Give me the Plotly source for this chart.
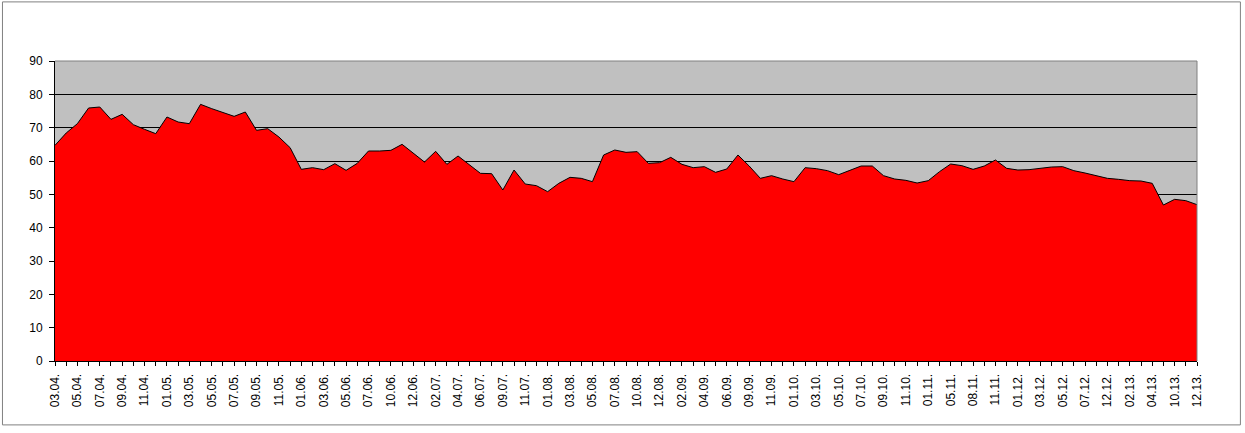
import plotly.graph_objects as go

# Category labels (every other one is shown on the axis)
CATEGORIES = [
    '03.04.', '04.04.', '05.04.', '06.04.', '07.04.', '08.04.', '09.04.', '10.04.', '11.04.', '12.04.',
    '01.05.', '02.05.', '03.05.', '04.05.', '05.05.', '06.05.', '07.05.', '08.05.', '09.05.', '10.05.',
    '11.05.', '12.05.', '01.06.', '02.06.', '03.06.', '04.06.', '05.06.', '06.06.', '07.06.', '08.06.',
    '10.06.', '11.06.', '12.06.', '01.07.', '02.07.', '03.07.', '04.07.', '05.07.', '06.07.', '08.07.',
    '09.07.', '10.07.', '11.07.', '12.07.', '01.08.', '02.08.', '03.08.', '04.08.', '05.08.', '06.08.',
    '07.08.', '09.08.', '10.08.', '11.08.', '12.08.', '01.09.', '02.09.', '03.09.', '04.09.', '05.09.',
    '06.09.', '08.09.', '09.09.', '10.09.', '11.09.', '12.09.', '01.10.', '02.10.', '03.10.', '04.10.',
    '05.10.', '06.10.', '07.10.', '08.10.', '09.10.', '10.10.', '11.10.', '12.10.', '01.11.', '03.11.',
    '05.11.', '07.11.', '08.11.', '10.11.', '11.11.', '12.11.', '01.12.', '02.12.', '03.12.', '04.12.',
    '05.12.', '06.12.', '07.12.', '10.12.', '12.12.', '01.13.', '02.13.', '03.13.', '04.13.', '07.13.',
    '10.13.', '11.13.', '12.13.',
]

VALUES = [
    64.7, 68.4, 71.2, 75.9, 76.2, 72.5, 74.0, 70.9, 69.5, 68.2,
    73.2, 71.7, 71.2, 77.0, 75.7, 74.5, 73.4, 74.7, 69.2, 69.7,
    67.2, 64.0, 57.5, 58.0, 57.4, 59.2, 57.2, 59.3, 63.0, 63.0,
    63.2, 65.0, 62.3, 59.7, 62.9, 59.0, 61.5, 59.0, 56.3, 56.2,
    51.3, 57.3, 53.1, 52.6, 50.8, 53.3, 55.1, 54.8, 53.8, 61.8,
    63.3, 62.6, 62.8, 59.3, 59.5, 61.1, 59.0, 58.0, 58.3, 56.6,
    57.6, 61.8, 58.5, 54.8, 55.6, 54.6, 53.8, 58.0, 57.7, 57.1,
    55.9, 57.2, 58.5, 58.5, 55.6, 54.6, 54.2, 53.4, 54.1, 56.8,
    59.1, 58.6, 57.5, 58.5, 60.3, 57.8, 57.3, 57.4, 57.8, 58.2,
    58.3, 57.1, 56.4, 55.6, 54.8, 54.5, 54.1, 54.0, 53.3, 46.8,
    48.5, 48.1, 46.9,
]

Y_TICKS = [0, 10, 20, 30, 40, 50, 60, 70, 80, 90]

FONT = 'Arial, Liberation Sans, sans-serif'

tick_text = [c if i % 2 == 0 else '' for i, c in enumerate(CATEGORIES)]

fig = go.Figure()
fig.add_trace(go.Scatter(
    x=CATEGORIES,
    y=VALUES,
    mode='lines',
    fill='tozeroy',
    fillcolor='#FF0000',
    line=dict(color='black', width=1),
    showlegend=False,
    hoverinfo='x+y',
))

fig.update_layout(
    width=1245, height=433,
    margin=dict(l=55, r=48, t=61, b=72),
    paper_bgcolor='white',
    plot_bgcolor='#C0C0C0',
    font=dict(family=FONT, size=12, color='black'),
    xaxis=dict(
        type='category',
        range=[0, len(CATEGORIES) - 1],
        tickmode='array',
        tickvals=CATEGORIES,
        ticktext=tick_text,
        tickangle=-90,
        ticks='outside', ticklen=4, tickcolor='black',
        ticklabelstandoff=3,
        showline=True, linecolor='black', linewidth=1,
        showgrid=False,
        tickfont=dict(family=FONT, size=12, color='black'),
    ),
    yaxis=dict(
        range=[0, 90],
        tickmode='array',
        tickvals=Y_TICKS,
        ticks='outside', ticklen=5, tickcolor='black',
        ticklabelstandoff=4,
        showline=True, linecolor='black', linewidth=1,
        showgrid=True, gridcolor='black', gridwidth=1,
        zeroline=False,
        tickfont=dict(family=FONT, size=12, color='black'),
    ),
    shapes=[
        # plot area border (top and right)
        dict(type='line', xref='paper', yref='paper', x0=0, x1=1, y0=1, y1=1,
             line=dict(color='#808080', width=1), layer='above'),
        dict(type='line', xref='paper', yref='paper', x0=1, x1=1, y0=0, y1=1,
             line=dict(color='#808080', width=1), layer='above'),
        # chart area border
        dict(type='rect', xref='paper', yref='paper',
             x0=-0.046, x1=1.038, y0=-0.213, y1=1.197,
             line=dict(color='#808080', width=1), layer='below'),
    ],
)

# remove the default page margin so the figure sits at the window origin
fig.write_html('out.html', config={'displayModeBar': False},
               post_script="document.body.style.margin='0';")
